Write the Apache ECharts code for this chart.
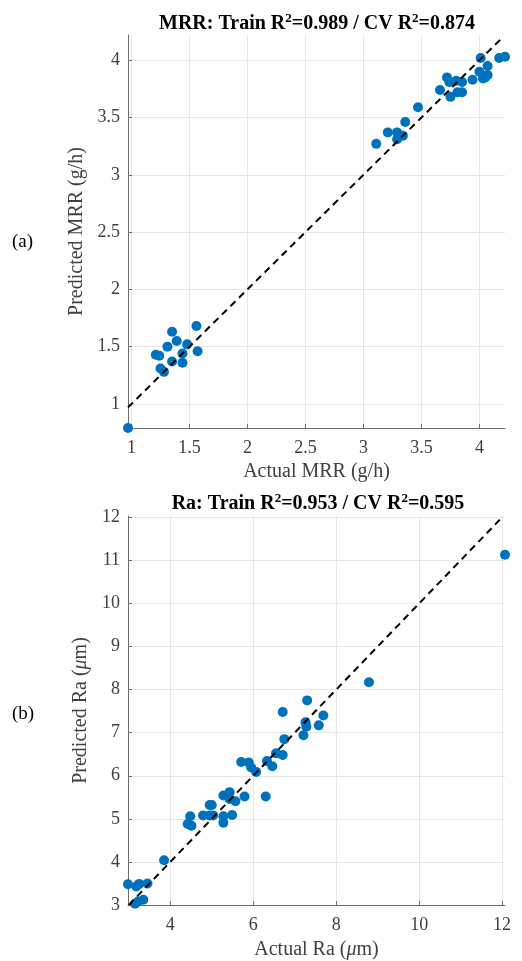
<!DOCTYPE html>
<html>
<head>
<meta charset="utf-8">
<script src="https://cdn.jsdelivr.net/npm/echarts@6/dist/echarts.min.js"></script>
<style>html,body{margin:0;padding:0;background:#fff;}#c{width:522px;height:961px;}</style>
</head>
<body>
<div id="c"></div>
<script>
// ---- Data ----
const mrrActual = [0.97, 1.21, 1.24, 1.25, 1.28, 1.31, 1.35, 1.35, 1.39, 1.44, 1.44, 1.48, 1.56, 1.57,
  3.11, 3.21, 3.29, 3.29, 3.34, 3.36, 3.47, 3.66, 3.72, 3.74, 3.75, 3.80, 3.81, 3.85, 3.85, 3.94,
  4.00, 4.01, 4.03, 4.05, 4.07, 4.07, 4.17, 4.22];
const mrrPred = [0.79, 1.43, 1.42, 1.31, 1.28, 1.50, 1.63, 1.37, 1.55, 1.44, 1.36, 1.52, 1.68, 1.46,
  3.27, 3.37, 3.37, 3.31, 3.34, 3.46, 3.59, 3.74, 3.85, 3.81, 3.68, 3.82, 3.72, 3.81, 3.72, 3.83,
  3.90, 4.02, 3.84, 3.85, 3.95, 3.87, 4.02, 4.03];
const raActual = [3.15, 3.22, 3.35, 2.98, 3.18, 3.25, 3.45, 3.85,
  4.42, 4.51, 4.48, 4.79, 4.95, 5.03, 4.95, 5.00, 5.28, 5.28, 5.49, 5.28, 5.43, 5.43, 5.57, 5.79, 6.30,
  5.71, 5.89, 5.95, 6.07, 6.33, 6.46, 6.55, 6.71, 6.75, 6.71, 7.21, 7.26, 7.28, 7.30, 7.58, 7.69, 8.79, 12.07];
const raPred = [3.03, 3.08, 3.12, 3.48, 3.43, 3.49, 3.50, 4.04,
  4.88, 4.84, 5.06, 5.08, 5.08, 5.08, 5.32, 5.32, 5.06, 4.91, 5.09, 5.54, 5.62, 5.46, 5.41, 5.52, 5.52,
  6.32, 6.31, 6.19, 6.09, 6.34, 6.22, 6.52, 6.48, 6.85, 7.48, 6.94, 7.24, 7.14, 7.75, 7.17, 7.40, 8.17, 11.13];
const mrrRefLine = [0.97, 4.20];   // y = x reference endpoints
const raRefLine = [3.0, 11.95];
const mrrTicks = [1, 1.5, 2, 2.5, 3, 3.5, 4];
const raXTicks = [4, 6, 8, 10, 12];
const raYTicks = [3, 4, 5, 6, 7, 8, 9, 10, 11, 12];
const mrrXRange = [0.97, 4.22], mrrYRange = [0.79, 4.22];
const raXRange = [2.98, 12.07], raYRange = [3.0, 12.03];

// ---- Chart ----
const FONT = '"Liberation Serif","Times New Roman",serif';
const BLUE = '#0072BD';
const pairs = (a, b) => a.map((v, i) => [v, b[i]]);

function axisCommon(ticks, range, isX) {
  return {
    type: 'value', min: range[0], max: range[1],
    axisLine: { show: true, onZero: false, lineStyle: { color: '#6e6e6e', width: 1 } },
    axisTick: { show: true, inside: true, length: 4, customValues: ticks, lineStyle: { color: '#6e6e6e' } },
    axisLabel: { customValues: ticks, color: '#404040', fontFamily: FONT, fontSize: 18, margin: isX ? 11 : 8 },
    splitLine: { show: true, lineStyle: { color: '#e6e6e6', width: 1 } },
    nameTextStyle: { color: '#404040', fontFamily: FONT, fontSize: 20 }
  };
}

const titleRich = {
  b: { fontFamily: FONT, fontSize: 20, fontWeight: 'bold', color: '#000', lineHeight: 24 },
  s: { fontFamily: FONT, fontSize: 13, fontWeight: 'bold', color: '#000', lineHeight: 24, verticalAlign: 'top', padding: [0, 0, 9, 0] }
};
const nameRich = {
  t: { color: '#404040', fontFamily: FONT, fontSize: 20 },
  i: { color: '#404040', fontFamily: FONT, fontSize: 20, fontStyle: 'italic' }
};

const option = {
  animation: false,
  backgroundColor: '#fff',
  title: [
    { text: '{b|MRR: Train R}{s|2}{b|=0.989 / CV R}{s|2}{b|=0.874}', left: 312, top: 7, textAlign: 'center',
      textStyle: { rich: titleRich } },
    { text: '{b|Ra: Train R}{s|2}{b|=0.953 / CV R}{s|2}{b|=0.595}', left: 313, top: 487, textAlign: 'center',
      textStyle: { rich: titleRich } }
  ],
  grid: [
    { left: 128, top: 35, width: 377, height: 393 },
    { left: 128, top: 516, width: 377, height: 391 }
  ],
  xAxis: [
    Object.assign(axisCommon(mrrTicks, mrrXRange, true), { gridIndex: 0, name: 'Actual MRR (g/h)', nameLocation: 'middle', nameGap: 34 }),
    Object.assign(axisCommon(raXTicks, raXRange, true), { gridIndex: 1, name: '{t|Actual Ra (}{i|μ}{t|m)}', nameLocation: 'middle', nameGap: 35,
      nameTextStyle: { rich: nameRich } })
  ],
  yAxis: [
    Object.assign(axisCommon(mrrTicks, mrrYRange, false), { gridIndex: 0, name: 'Predicted MRR (g/h)', nameLocation: 'middle', nameGap: 33 }),
    Object.assign(axisCommon(raYTicks, raYRange, false), { gridIndex: 1, name: '{t|Predicted Ra (}{i|μ}{t|m)}', nameLocation: 'middle', nameGap: 33,
      nameTextStyle: { rich: nameRich } })
  ],
  series: [
    { type: 'line', xAxisIndex: 0, yAxisIndex: 0, data: pairs(mrrRefLine, mrrRefLine), symbol: 'none', silent: true,
      lineStyle: { color: '#000', width: 2, type: [7, 5] }, z: 3 },
    { type: 'scatter', xAxisIndex: 0, yAxisIndex: 0, data: pairs(mrrActual, mrrPred), symbolSize: 10, clip: false,
      itemStyle: { color: BLUE, opacity: 1 }, z: 2 },
    { type: 'line', xAxisIndex: 1, yAxisIndex: 1, data: pairs(raRefLine, raRefLine), symbol: 'none', silent: true,
      lineStyle: { color: '#000', width: 2, type: [7, 5] }, z: 3 },
    { type: 'scatter', xAxisIndex: 1, yAxisIndex: 1, data: pairs(raActual, raPred), symbolSize: 10, clip: false,
      itemStyle: { color: BLUE, opacity: 1 }, z: 2 }
  ],
  graphic: [
    { type: 'text', left: 12, top: 233, style: { text: '(a)', font: '19px ' + FONT, fill: '#000' } },
    { type: 'text', left: 12, top: 705, style: { text: '(b)', font: '19px ' + FONT, fill: '#000' } }
  ]
};

const chart = echarts.init(document.getElementById('c'), null, { renderer: 'canvas' });
chart.setOption(option);
</script>
</body>
</html>
